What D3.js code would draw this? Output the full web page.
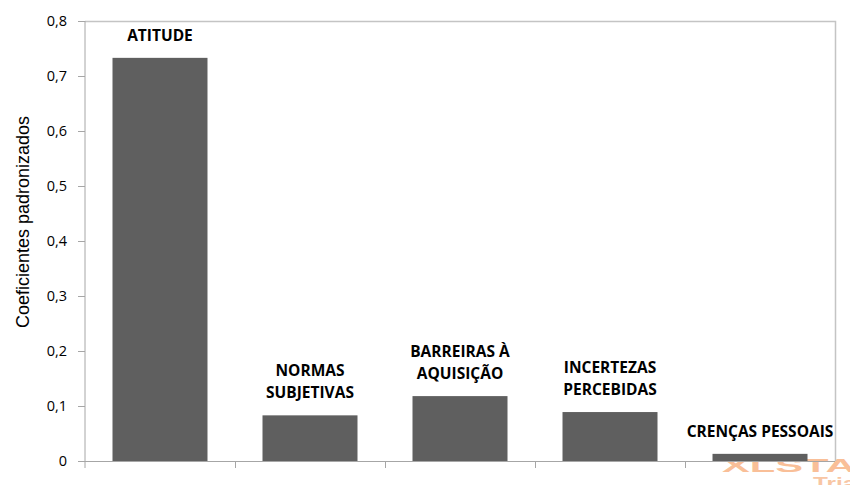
<!DOCTYPE html>
<html>
<head>
<meta charset="utf-8">
<script src="https://cdn.jsdelivr.net/npm/d3@7"></script>
<style>
  html, body { margin: 0; padding: 0; background: #fff; }
  svg { display: block; }
</style>
</head>
<body>
<svg id="chart" width="850" height="485"></svg>
<script>
// Standardized coefficients per factor
const categories = [
  ["ATITUDE"],
  ["NORMAS", "SUBJETIVAS"],
  ["BARREIRAS À", "AQUISIÇÃO"],
  ["INCERTEZAS", "PERCEBIDAS"],
  ["CRENÇAS PESSOAIS"]
];
const values = [0.733, 0.083, 0.118, 0.089, 0.013];
const yTicks = [0, 0.1, 0.2, 0.3, 0.4, 0.5, 0.6, 0.7, 0.8];
const yTitle = "Coeficientes padronizados";

const svg = d3.select("#chart");
const margin = { left: 85, right: 15, top: 21, bottom: 24 };
const W = 850, H = 485;
const x0 = margin.left, x1 = W - margin.right;
const yTop = margin.top, yBot = H - margin.bottom;

const keys = categories.map((c, i) => i);
const x = d3.scaleBand().domain(keys).range([x0, x1])
  .paddingInner(0.3667).paddingOuter(0.1833);
const y = d3.scaleLinear().domain([0, 0.8]).range([yBot, yTop]);

const fmt = d => d3.format(".1f")(d).replace(".", ",").replace(/^0,0$/, "0");

// watermark (behind everything)
const wm = svg.append("g").attr("fill", "#f9bf98")
  .attr("font-family", "Liberation Sans, Arial, sans-serif").attr("font-weight", "bold");
wm.append("text").attr("x", 722).attr("y", 472)
  .attr("font-size", 19).attr("textLength", 156).attr("lengthAdjust", "spacingAndGlyphs")
  .text("XLSTAT");
wm.append("text").attr("x", 813).attr("y", 489)
  .attr("font-size", 16).attr("textLength", 50).attr("lengthAdjust", "spacingAndGlyphs")
  .attr("fill", "#f8c6a4")
  .text("Trial");

// plot frame (top and right)
svg.append("path")
  .attr("d", `M${x0},${yTop + 0.5}H${x1 + 0.5}V${yBot}`)
  .attr("fill", "none").attr("stroke", "#c4c4c4").attr("stroke-width", 1.5);

// bars
svg.append("g").selectAll("rect").data(values).join("rect")
  .attr("x", (d, i) => x(i))
  .attr("width", x.bandwidth())
  .attr("y", d => y(d))
  .attr("height", d => y(0) - y(d))
  .attr("fill", "#5f5f5f");

// y axis
const yAxis = svg.append("g").attr("transform", `translate(${x0},0)`)
  .call(d3.axisLeft(y).tickValues(yTicks).tickFormat(fmt).tickSize(7).tickPadding(11));
yAxis.select(".domain").attr("stroke", "#a6a6a6").attr("d", `M0,${yTop}V${yBot + 7}`);
yAxis.selectAll(".tick line").attr("stroke", "#a6a6a6");
yAxis.selectAll(".tick text")
  .attr("font-family", "Open Sans, sans-serif").attr("font-size", 14.5).attr("fill", "#000");

// x axis with ticks at category boundaries
const step = x.step();
const bounds = keys.slice(1).map(i => x(i) - x.paddingInner() * step / 2);
const xg = svg.append("g");
xg.append("line").attr("x1", x0).attr("x2", x1).attr("y1", yBot + 0.5).attr("y2", yBot + 0.5)
  .attr("stroke", "#a6a6a6");
xg.selectAll("line.tk").data(bounds).join("line").attr("class", "tk")
  .attr("x1", d => Math.round(d) + 0.5).attr("x2", d => Math.round(d) + 0.5)
  .attr("y1", yBot).attr("y2", yBot + 7).attr("stroke", "#a6a6a6");

// bar labels
const lh = 22;
const lab = svg.append("g")
  .attr("font-family", "Open Sans, sans-serif").attr("font-weight", "bold")
  .attr("font-size", 15.5).attr("text-anchor", "middle").attr("fill", "#000");
categories.forEach((lines, i) => {
  const cx = x(i) + x.bandwidth() / 2;
  const base = y(values[i]) - 17;
  lines.forEach((t, j) => {
    lab.append("text").attr("x", cx)
      .attr("y", base - (lines.length - 1 - j) * lh)
      .text(t);
  });
});

// y title
svg.append("text")
  .attr("transform", `translate(29,222) rotate(-90)`)
  .attr("text-anchor", "middle")
  .attr("font-family", "Liberation Sans, Arial, sans-serif").attr("font-size", 18)
  .text(yTitle);
</script>
</body>
</html>
